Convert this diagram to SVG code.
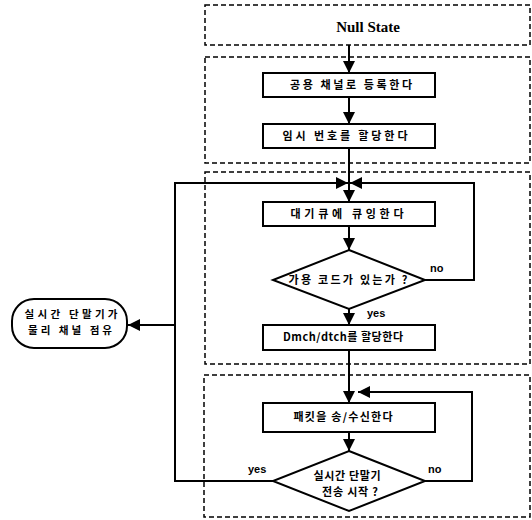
<svg xmlns="http://www.w3.org/2000/svg" width="532" height="520" viewBox="0 0 532 520">
<style>
.zone{fill:none;stroke:#000;stroke-width:1.5;stroke-dasharray:5 3}
.box{fill:#fff;stroke:#000;stroke-width:2}
.ln{fill:none;stroke:#000;stroke-width:2}
.kt{font-family:"Noto Sans CJK KR","Liberation Sans",sans-serif;font-weight:bold;font-size:11px;fill:#000;text-anchor:middle}
.ks{font-size:10.5px}
.lb{font-family:"Liberation Sans",Arial,sans-serif;font-weight:bold;font-size:11px;fill:#000}
.ns{font-family:"Liberation Serif","Times New Roman",serif;font-weight:bold;font-size:15px;fill:#000;text-anchor:middle}
</style>
<defs>
<marker id="arr" viewBox="0 0 12 12" refX="12" refY="6" markerWidth="12" markerHeight="12" markerUnits="userSpaceOnUse" orient="auto">
<path d="M0,0 L12,6 L0,12 z" fill="#000"/>
</marker>
</defs>
<g id="zones">
<rect class="zone" x="205" y="5" width="325" height="40"/>
<rect class="zone" x="205" y="57" width="325" height="106"/>
<rect class="zone" x="205" y="172" width="325" height="192"/>
<rect class="zone" x="204" y="375" width="326" height="142"/>
</g>
<g id="connectors">
<path class="ln" d="M349,45 V73" marker-end="url(#arr)"/>
<path class="ln" d="M349,97 V124" marker-end="url(#arr)"/>
<path class="ln" d="M349,148 V202" marker-end="url(#arr)"/>
<path class="ln" d="M349,226 V250" marker-end="url(#arr)"/>
<path class="ln" d="M349,309 V325" marker-end="url(#arr)"/>
<path class="ln" d="M349,350 V403" marker-end="url(#arr)"/>
<path class="ln" d="M349,432 V451" marker-end="url(#arr)"/>
<path class="ln" d="M425,280 H474 V183 H350" marker-end="url(#arr)"/>
<path class="ln" d="M273,481 H175 V183 H348" marker-end="url(#arr)"/>
<path class="ln" d="M175,325 H128" marker-end="url(#arr)"/>
<path class="ln" d="M425,481 H472 V392 H358" marker-end="url(#arr)"/>
</g>
<g id="null-state">
<text class="ns" x="368" y="32">Null State</text>
</g>
<g id="register">
<rect class="box" x="263" y="73" width="172" height="24"/>
<text class="kt" x="351" y="89" textLength="122" lengthAdjust="spacing">공용 채널로 등록한다</text>
</g>
<g id="assign-temp">
<rect class="box" x="263" y="124" width="172" height="24"/>
<text class="kt" x="345" y="140" textLength="125" lengthAdjust="spacing">임시 번호를 할당한다</text>
</g>
<g id="queue">
<rect class="box" x="263" y="202" width="172" height="24"/>
<text class="kt" x="347" y="218" textLength="113" lengthAdjust="spacing">대기큐에 큐잉한다</text>
</g>
<g id="code-check">
<polygon class="box" points="349,250 425,280 349,309 273,280"/>
<text class="kt" x="348" y="284" textLength="119" lengthAdjust="spacing">가용 코드가 있는가 ?</text>
</g>
<g id="assign-dmch">
<rect class="box" x="263" y="325" width="172" height="25"/>
<text class="kt" x="343" y="341" textLength="120" lengthAdjust="spacing">Dmch/dtch를 할당한다</text>
</g>
<g id="packet">
<rect class="box" x="263" y="403" width="172" height="29"/>
<text class="kt" x="343" y="421" textLength="99" lengthAdjust="spacing">패킷을 송/수신한다</text>
</g>
<g id="rt-check">
<polygon class="box" points="349,451 425,481 349,511 273,481"/>
<text class="kt" x="347" y="480" textLength="67" lengthAdjust="spacing">실시간 단말기</text>
<text class="kt" x="350" y="496" textLength="56" lengthAdjust="spacing">전송 시작 ?</text>
</g>
<g id="occupy">
<rect class="box" x="12" y="299" width="115" height="49" rx="22" ry="22"/>
<text class="kt ks" x="71" y="318" textLength="93" lengthAdjust="spacing">실시간 단말기가</text>
<text class="kt ks" x="70" y="334" textLength="84" lengthAdjust="spacing">물리 채널 점유</text>
</g>
<g id="labels">
<text class="lb" x="430" y="272">no</text>
<text class="lb" x="367" y="317">yes</text>
<text class="lb" x="248" y="473">yes</text>
<text class="lb" x="428" y="473">no</text>
</g>
</svg>
